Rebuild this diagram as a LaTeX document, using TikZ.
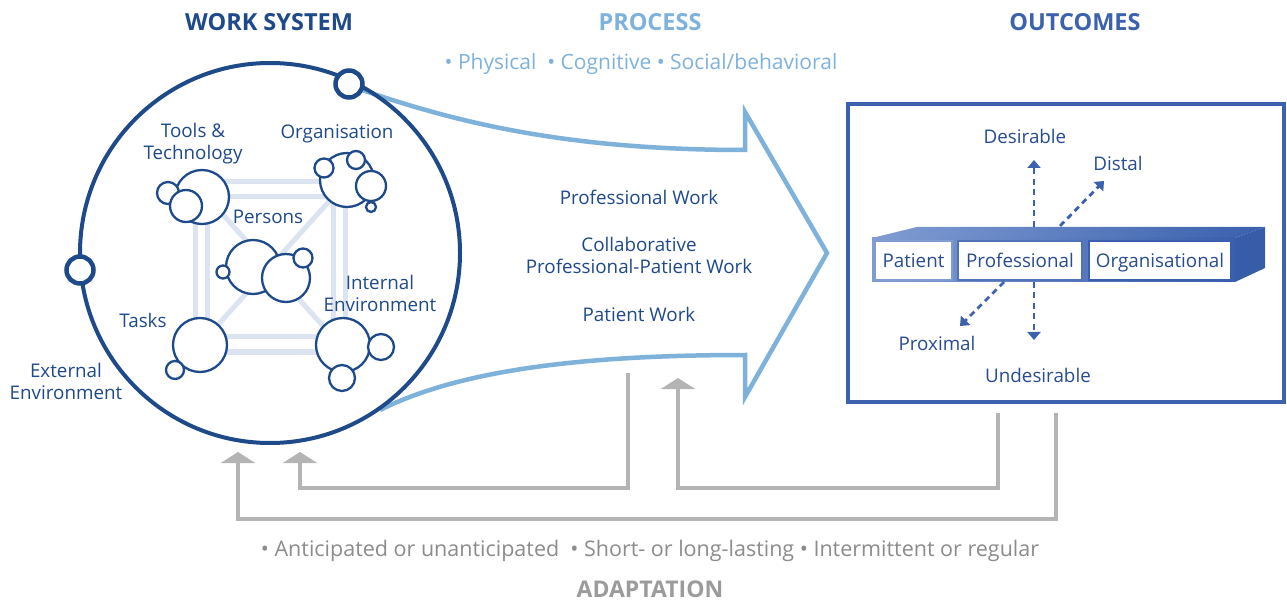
\documentclass[tikz,border=0pt]{standalone}
\usepackage{fontspec}
\setmainfont{Open Sans}
\usetikzlibrary{arrows.meta}
\definecolor{wsblue}{RGB}{31,74,138}
\definecolor{prblue}{RGB}{127,178,219}
\definecolor{ocblue}{RGB}{61,98,173}
\definecolor{octext}{RGB}{40,76,145}
\definecolor{fbgray}{RGB}{180,180,180}
\definecolor{txgray}{RGB}{140,140,140}
\definecolor{adgray}{RGB}{155,155,155}
\definecolor{pale}{RGB}{221,228,241}
\definecolor{barL}{RGB}{128,156,210}
\definecolor{barM}{RGB}{80,114,186}
\definecolor{barR}{RGB}{58,96,173}
\definecolor{barD}{RGB}{55,92,168}
\tikzset{
  lbl/.style={inner sep=0pt, text height=17.3pt, text depth=2.3pt, font=\fontsize{18.8}{22}\selectfont, text=wsblue},
  mlbl/.style={inner sep=0pt, align=center, font=\fontsize{18.8}{22}\selectfont, text=wsblue},
  hdr/.style={inner sep=0pt, text height=16.9pt, text depth=0pt, font=\fontsize{23.5}{28}\selectfont\bfseries},
  bub/.style={draw=wsblue, line width=2.3pt, fill=white},
  knob/.style={draw=wsblue, line width=4.5pt, fill=white},
  framel/.style={draw=pale, line width=5pt},
  procarrow/.style={draw=prblue, line width=4.5pt, line join=miter, miter limit=10},
  fb/.style={draw=fbgray, line width=4.5pt, -{Triangle[width=34pt,length=11pt]}},
  dasharr/.style={draw=ocblue, line width=2.8pt, dash pattern=on 6pt off 4.5pt, -{Triangle[width=13pt,length=8pt]}},
  obox/.style={fill=white, line width=2.5pt, inner sep=0pt, text height=15.5pt, text depth=2.3pt, font=\fontsize{18.8}{22}\selectfont, text=octext},
  octx/.style={lbl, text=octext},
}
\begin{document}
\begin{tikzpicture}[x=1pt,y=-1pt]
\useasboundingbox (0,0) rectangle (1287,601);
\fill[white] (0,0) rectangle (1287,601);

% headers
\node[hdr, text=wsblue] (hws) at (269,22) {WORK SYSTEM};
\node[hdr, text=prblue] (hpr) at (650,22) {PROCESS};
\node[hdr, text=ocblue] (hoc) at (1075,22) {OUTCOMES};
\node[lbl, text=prblue, font=\fontsize{21}{24}\selectfont, text height=16pt, text depth=2.5pt] (psub) at (641,63) {\textbullet\ Physical\ \ \textbullet\ Cognitive \textbullet\ Social/behavioral};

% process arrow
\draw[procarrow] (362,90) .. controls (450,120) and (560,150) .. (745,150)
  -- (745,112) -- (827,253) -- (745,397) -- (745,355)
  .. controls (560,355) and (450,375) .. (380,410);

% work system circle
\draw[wsblue, line width=4pt] (270,253) circle[radius=190pt];
\node[knob, circle, minimum size=27pt, inner sep=0pt] (k1) at (349,84) {};
\node[knob, circle, minimum size=27pt, inner sep=0pt] (k2) at (80,270) {};

% pale frame
\draw[framel] (195,182) rectangle (345,352);
\draw[framel] (207,197) rectangle (333,337);
\draw[framel] (207,197) -- (333,337);
\draw[framel] (333,197) -- (207,337);

% tools cluster
\draw[bub] (202,197) circle[radius=27pt];
\draw[bub] (168,193) circle[radius=11pt];
\draw[bub] (186,206) circle[radius=16pt];
% organisation cluster
\draw[bub] (347,180) circle[radius=27pt];
\draw[bub] (324,168) circle[radius=9.5pt];
\draw[bub] (356,160) circle[radius=9pt];
\draw[bub] (371,186) circle[radius=15pt];
\draw[bub] (371,207) circle[radius=5pt];
% persons cluster
\draw[bub] (253,267) circle[radius=27pt];
\draw[bub] (286,278) circle[radius=24pt];
\draw[bub] (303,258) circle[radius=9.5pt];
\draw[bub] (223,272) circle[radius=6.5pt];
% tasks
\draw[bub] (200,345) circle[radius=27pt];
\draw[bub] (175,370) circle[radius=9pt];
% internal environment
\draw[bub] (343,345) circle[radius=27pt];
\draw[bub] (381,347) circle[radius=13pt];
\draw[bub] (342,378) circle[radius=13pt];

% circle labels
\node[mlbl] (ltools) at (193,143.5) {Tools \&\\Technology};
\node[lbl] (lorg) at (337,131) {Organisation};
\node[lbl] (lpers) at (268,216) {Persons};
\node[mlbl] (lint) at (380,293.5) {Internal\\Environment};
\node[lbl] (ltask) at (143,320) {Tasks};
\node[mlbl] (lext) at (66,381.5) {External\\Environment};

% process labels
\node[lbl] (pw1) at (639,197) {Professional Work};
\node[mlbl] (pw2) at (639,255.5) {Collaborative\\Professional-Patient Work};
\node[lbl] (pw3) at (639,314) {Patient Work};

% outcomes box
\draw[ocblue, line width=4.5pt] (848,104) rectangle (1284,402);
\coordinate (obot1) at (998,413);
\coordinate (obot2) at (1056,413);

% bar
\shade[left color=barL, right color=barR] (872,238) -- (917,227) -- (1265,227) -- (1235,238) -- cycle;
\shade[left color=barL, right color=barR] (872,238) rectangle (1235,282);
\fill[barD] (1235,238) -- (1265,227) -- (1265,268) -- (1235,282) -- cycle;
\node[obox, draw=barL, minimum width=77pt, minimum height=39pt] (bpat) at (913.5,260.5) {Patient};
\node[obox, draw=barM, minimum width=124pt, minimum height=39pt] (bpro) at (1020,260.5) {Professional};
\node[obox, draw=barR, minimum width=142pt, minimum height=39pt] (borg) at (1160,260.5) {Organisational};

% dashed arrows
\coordinate (dtop) at (1034,227);
\coordinate (dbot) at (1034,282);
\coordinate (ddr) at (1060,226);
\coordinate (ddl) at (1004,282);
\node[octx] (ldes) at (1025,136) {Desirable};
\node[octx] (ldis) at (1118,163) {Distal};
\node[octx] (lprox) at (937,343) {Proximal};
\node[octx] (lund) at (1038,375) {Undesirable};
\draw[dasharr] (dtop) -- (1034,160);
\draw[dasharr] (dbot) -- (1034,340);
\draw[dasharr] (ddr) -- (1104,181);
\draw[dasharr] (ddl) -- (960,326);

% feedback arrows
\coordinate (fa1) at (238,452);
\coordinate (fa2) at (300,452);
\coordinate (fa3) at (678,378);
\coordinate (ps) at (628,373);
\draw[fb] (obot2) -- (1056,519) -| (fa1);
\draw[fb] (ps) -- (628,488) -| (fa2);
\draw[fb] (obot1) -- (998,488) -| (fa3);

% adaptation texts
\node[lbl, text=txgray, font=\fontsize{21.5}{24}\selectfont, text height=16.5pt, text depth=2.6pt] (asub) at (650,550) {\textbullet\ Anticipated or unanticipated \ \textbullet\ Short- or long-lasting \textbullet\ Intermittent or regular};
\node[hdr, text=adgray, font=\fontsize{23}{26}\selectfont\bfseries, text height=17.5pt] (hadp) at (650,589) {ADAPTATION};
\end{tikzpicture}
\end{document}
